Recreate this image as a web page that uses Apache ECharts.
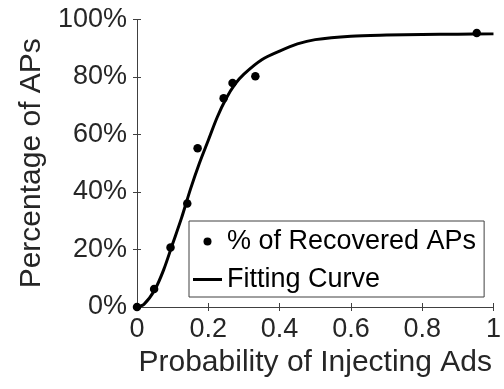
<!DOCTYPE html>
<html>
<head>
<meta charset="utf-8">
<script src="https://cdn.jsdelivr.net/npm/echarts@6/dist/echarts.min.js"></script>
<style>
  html, body { margin: 0; padding: 0; background: #fff; }
  #chart { width: 504px; height: 389px; }
</style>
</head>
<body>
<div id="chart"></div>
<script>
// measured points (probability, percentage)
const pointX = [0, 0.048, 0.094, 0.141, 0.17, 0.243, 0.268, 0.332, 0.953];
const pointY = [0, 6.3, 20.7, 36, 55.2, 72.6, 77.9, 80.3, 95.3];

// fitting curve
const curveX = [0, 0.02, 0.05, 0.075, 0.1, 0.125, 0.15, 0.175, 0.2, 0.225, 0.25, 0.275, 0.3, 0.35, 0.4, 0.45, 0.5, 0.6, 0.7, 0.8, 0.9, 1];
const curveY = [0, 1, 6, 13, 22, 31, 41, 50, 58, 66, 72.5, 77.5, 81, 86, 89, 91.5, 93, 94.2, 94.6, 94.8, 94.9, 95];

const xTicks = [0, 0.2, 0.4, 0.6, 0.8, 1];
const yTicks = [0, 20, 40, 60, 80, 100];

const axisColor = '#404040';
const textColor = '#262626';
const font = 'Liberation Sans';

const chart = echarts.init(document.getElementById('chart'));

const baseX = {
  type: 'value', min: 0, max: 1, interval: 0.2,
  axisLine: { show: true, lineStyle: { color: axisColor, width: 1 } },
  axisTick: { show: true, inside: true, length: 4, lineStyle: { color: axisColor } },
  splitLine: { show: false }
};
const baseY = {
  type: 'value', min: 0, max: 100, interval: 20,
  axisLine: { show: true, lineStyle: { color: axisColor, width: 1 } },
  axisTick: { show: true, inside: true, length: 4, lineStyle: { color: axisColor } },
  splitLine: { show: false }
};

chart.setOption({
  animation: false,
  backgroundColor: '#fff',
  textStyle: { fontFamily: font },
  grid: { left: 137, right: 7, top: 19.5, bottom: 82 },
  xAxis: [
    Object.assign({}, baseX, {
      position: 'bottom',
      name: 'Probability of Injecting Ads',
      nameLocation: 'middle',
      nameGap: 38,
      nameTextStyle: { fontSize: 30, color: textColor, fontFamily: font },
      axisLabel: {
        fontSize: 27, color: textColor, margin: 9, fontFamily: font,
        formatter: v => xTicks.includes(+v.toFixed(1)) ? String(+v.toFixed(1)) : ''
      }
    }),
    Object.assign({}, baseX, { position: 'top', axisLabel: { show: false } })
  ],
  yAxis: [
    Object.assign({}, baseY, {
      position: 'left',
      name: 'Percentage of APs',
      nameLocation: 'middle',
      nameGap: 88,
      nameTextStyle: { fontSize: 30, color: textColor, fontFamily: font },
      axisLabel: {
        fontSize: 27, color: textColor, margin: 10, fontFamily: font,
        formatter: v => yTicks.includes(v) ? v + '%' : ''
      }
    }),
    Object.assign({}, baseY, { position: 'right', axisLabel: { show: false } })
  ],
  legend: {
    orient: 'vertical',
    left: 189,
    top: 221,
    padding: [5, 8, 2, 4],
    itemGap: 7,
    itemWidth: 29,
    itemHeight: 8,
    borderColor: axisColor,
    borderWidth: 1,
    backgroundColor: '#fff',
    textStyle: { fontSize: 27, color: '#000', fontFamily: font, lineHeight: 31 },
    data: [
      { name: '% of Recovered APs', icon: 'circle' },
      { name: 'Fitting Curve', icon: 'path://M0,0h29v3h-29z' }
    ]
  },
  series: [
    {
      name: 'Fitting Curve',
      type: 'line',
      symbol: 'none',
      smooth: 0.3,
      clip: false,
      lineStyle: { color: '#000', width: 3 },
      itemStyle: { color: '#000' },
      data: curveX.map((x, i) => [x, curveY[i]]),
      z: 2
    },
    {
      name: '% of Recovered APs',
      type: 'scatter',
      symbolSize: 8.5,
      clip: false,
      itemStyle: { color: '#000', opacity: 1 },
      data: pointX.map((x, i) => [x, pointY[i]]),
      z: 3
    }
  ]
});
</script>
</body>
</html>
